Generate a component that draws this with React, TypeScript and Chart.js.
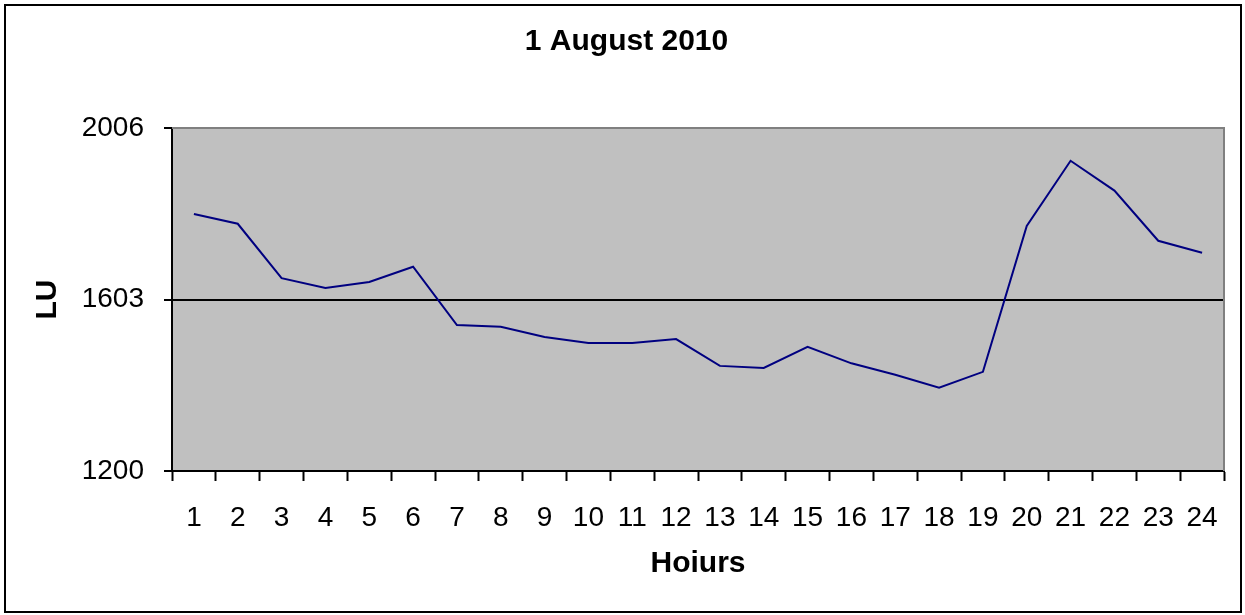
import React, { useEffect, useRef } from "react";
import { Chart, registerables } from "chart.js";

Chart.register(...registerables);

const chartTitle = "1 August 2010";
const xAxisTitle = "Hoiurs";
const yAxisTitle = "LU";
const hours = ["1", "2", "3", "4", "5", "6", "7", "8", "9", "10", "11", "12", "13", "14", "15", "16", "17", "18", "19", "20", "21", "22", "23", "24"];
const luValues = [1804, 1781, 1653, 1630, 1644, 1680, 1543, 1539, 1515, 1501, 1501, 1510, 1447, 1442, 1492, 1453, 1426, 1396, 1433, 1776, 1929, 1859, 1741, 1713];
const yTickValues = [1200, 1603, 2006];
const yMin = 1200;
const yMax = 2006;

const FONT = "'Liberation Sans', Arial, sans-serif";

const framePlugin = {
  id: "frame",
  beforeDraw(chart: any) {
    const { ctx, chartArea: a } = chart;
    ctx.save();
    ctx.fillStyle = "#ffffff";
    ctx.fillRect(0, 0, chart.width, chart.height);
    ctx.fillStyle = "#C0C0C0";
    ctx.fillRect(a.left, a.top, a.right - a.left, a.bottom - a.top);
    ctx.strokeStyle = "#000000";
    ctx.lineWidth = 2;
    ctx.strokeRect(5, 5, 1236, 607);
    ctx.restore();
  },
  beforeDatasetsDraw(chart: any) {
    const { ctx, chartArea: a } = chart;
    ctx.save();
    ctx.strokeStyle = "#808080";
    ctx.lineWidth = 2;
    ctx.beginPath();
    ctx.moveTo(a.left, a.top);
    ctx.lineTo(a.right, a.top);
    ctx.lineTo(a.right, a.bottom);
    ctx.stroke();
    ctx.restore();
  },
};

export default function App() {
  const canvasRef = useRef<HTMLCanvasElement | null>(null);

  useEffect(() => {
    const canvas = canvasRef.current;
    if (!canvas) return;
    const chart = new Chart(canvas, {
      type: "line",
      data: {
        labels: hours,
        datasets: [
          {
            label: "LU",
            data: luValues,
            borderColor: "#000080",
            borderWidth: 2,
            pointRadius: 0,
            fill: false,
            tension: 0,
          },
        ],
      },
      options: {
        responsive: false,
        animation: false,
        devicePixelRatio: 1,
        layout: { padding: { left: 29, right: 21, top: 0, bottom: 0 } },
        plugins: {
          legend: { display: false },
          tooltip: { enabled: false },
          title: {
            display: true,
            text: chartTitle,
            color: "#000000",
            font: { family: FONT, size: 30, weight: "bold" },
            padding: { top: 24, bottom: 68 },
          },
        },
        scales: {
          x: {
            type: "category",
            offset: true,
            afterFit(scale: any) {
              scale.height = 144;
            },
            grid: {
              offset: true,
              drawOnChartArea: false,
              drawTicks: true,
              tickLength: 10,
              tickColor: "#000000",
              tickWidth: 2,
            },
            border: { display: true, color: "#000000", width: 2 },
            ticks: {
              color: "#000000",
              font: { family: FONT, size: 28 },
              padding: 20,
              autoSkip: false,
              maxRotation: 0,
              minRotation: 0,
            },
            title: {
              display: true,
              text: xAxisTitle,
              color: "#000000",
              font: { family: FONT, size: 30, weight: "bold" },
              padding: { top: 0, bottom: 33 },
            },
          },
          y: {
            type: "linear",
            min: yMin,
            max: yMax,
            afterFit(scale: any) {
              scale.width = 143;
            },
            afterBuildTicks(scale: any) {
              scale.ticks = yTickValues.map((v) => ({ value: v }));
            },
            grid: {
              color: (c: any) => (c.tick && c.tick.value === 1603 ? "#000000" : "rgba(0,0,0,0)"),
              lineWidth: 2,
              drawTicks: true,
              tickLength: 8,
              tickColor: "#000000",
              tickWidth: 2,
            },
            border: { display: true, color: "#000000", width: 2 },
            ticks: {
              color: "#000000",
              font: { family: FONT, size: 28 },
              padding: 20,
              callback: (v: any) => String(v),
            },
            title: {
              display: true,
              text: yAxisTitle,
              color: "#000000",
              font: { family: FONT, size: 30, weight: "bold" },
              padding: { top: 1, bottom: 0 },
            },
          },
        },
      },
      plugins: [framePlugin],
    });
    return () => chart.destroy();
  }, []);

  return (
    <div style={{ position: "absolute", left: 0, top: 0, width: 1245, height: 615 }}>
      <canvas ref={canvasRef} width={1245} height={615} style={{ width: 1245, height: 615, display: "block" }} />
    </div>
  );
}
